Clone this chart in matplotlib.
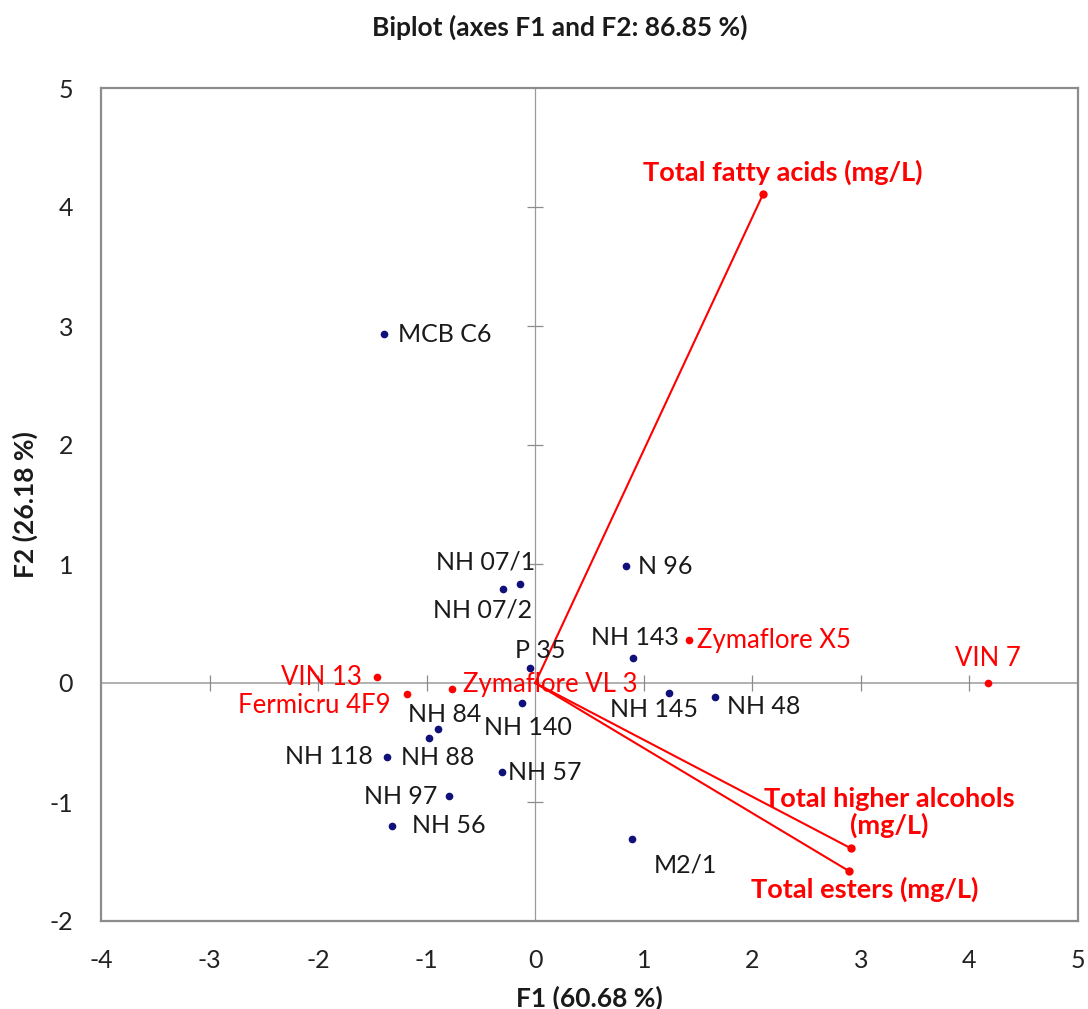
import numpy as np
import matplotlib
matplotlib.use("Agg")
import matplotlib.pyplot as plt

plt.rcParams['font.family'] = ['Lato', 'DejaVu Sans']
plt.rcParams['axes.unicode_minus'] = False

# active observations (blue)
obs_names = ['MCB C6', 'NH 07/1', 'NH 07/2', 'N 96', 'NH 143', 'P 35', 'NH 140',
             'NH 84', 'NH 88', 'NH 118', 'NH 57', 'NH 97', 'NH 56', 'NH 145',
             'NH 48', 'M2/1']
obs_f1 = [-1.39, -0.14, -0.30, 0.84, 0.90, -0.05, -0.12, -0.90, -0.98, -1.37,
          -0.31, -0.79, -1.32, 1.23, 1.66, 0.89]
obs_f2 = [2.93, 0.83, 0.79, 0.98, 0.21, 0.13, -0.17, -0.39, -0.465, -0.62,
          -0.75, -0.95, -1.20, -0.08, -0.12, -1.31]

# commercial / reference strains (red)
sup_names = ['VIN 13', 'Fermicru 4F9', 'Zymaflore VL 3', 'Zymaflore X5', 'VIN 7']
sup_f1 = [-1.46, -1.18, -0.77, 1.42, 4.17]
sup_f2 = [0.05, -0.095, -0.05, 0.36, 0.0]

# variables
var_names = ['Total fatty acids (mg/L)', 'Total higher alcohols\n(mg/L)',
             'Total esters (mg/L)']
var_f1 = [2.10, 2.91, 2.89]
var_f2 = [4.11, -1.39, -1.58]

xticks = [-4, -3, -2, -1, 0, 1, 2, 3, 4, 5]
yticks = [-2, -1, 0, 1, 2, 3, 4, 5]

# label offsets in pixels (dx, dy, ha)
offs = {
    'MCB C6': (14, 0, 'left'), 'NH 07/1': (15, 22, 'right'),
    'NH 07/2': (29, -21, 'right'), 'N 96': (12, 0, 'left'),
    'NH 143': (2, 21, 'center'), 'P 35': (10, 17, 'center'),
    'NH 140': (6, -24, 'center'), 'NH 84': (7, 15, 'center'),
    'NH 88': (-28, -19, 'left'), 'NH 118': (-14, 0, 'right'),
    'NH 57': (6, 0, 'left'), 'NH 97': (-12, 0, 'right'),
    'NH 56': (20, 0, 'left'), 'NH 145': (-15, -17, 'center'),
    'NH 48': (12, -9, 'left'), 'M2/1': (54, -26, 'center'),
    'VIN 13': (-15, 0, 'right'), 'Fermicru 4F9': (-17, -11, 'right'),
    'Zymaflore VL 3': (11, 4, 'left'), 'Zymaflore X5': (8, 0, 'left'),
    'VIN 7': (0, 24, 'center'),
    'Total fatty acids (mg/L)': (20, 22, 'center'),
    'Total higher alcohols\n(mg/L)': (38, 36, 'center'),
    'Total esters (mg/L)': (16, -18, 'center'),
}

fig = plt.figure(figsize=(10.88, 10.09), dpi=100)
ax = fig.add_axes([101 / 1088, 1 - 921 / 1009, 977 / 1088, 833 / 1009])
ax.set_xlim(xticks[0], xticks[-1])
ax.set_ylim(yticks[0], yticks[-1])

for s in ax.spines.values():
    s.set_color('#8c8c8c')
    s.set_linewidth(1.6)

ax.axhline(0, color='#b0b0b0', lw=1.4, zorder=1)
ax.axvline(0, color='#9a9a9a', lw=0.9, zorder=1)
xt = [t for t in xticks[1:-1] if t != 0]
yt = [t for t in yticks[1:-1] if t != 0]
ax.plot(xt, np.zeros(len(xt)), ls='none', marker='|', ms=11, mew=0.9, color='#8c8c8c', zorder=1)
ax.plot(np.zeros(len(yt)), yt, ls='none', marker='_', ms=11, mew=0.9, color='#8c8c8c', zorder=1)

ax.set_xticks(xticks)
ax.set_yticks(yticks)
ax.tick_params(length=0, labelsize=18, pad=20, colors='#222222')

# variable vectors
for x, y in zip(var_f1, var_f2):
    ax.plot([0, x], [0, y], color='red', lw=1.5, zorder=2)
ax.plot(var_f1, var_f2, ls='none', marker='o', ms=5, color='red', zorder=3)

ax.plot(obs_f1, obs_f2, ls='none', marker='o', ms=4.5, color='#10107a', zorder=3)
ax.plot(sup_f1, sup_f2, ls='none', marker='o', ms=4.5, color='red', zorder=3)

def lab(name, x, y, color, weight='normal', size=18):
    dx, dy, ha = offs[name]
    ax.annotate(name, (x, y), xytext=(dx, dy), textcoords='offset pixels',
                ha=ha, va='center', color=color, fontsize=size,
                fontweight=weight, linespacing=1.05, zorder=4)

for n, x, y in zip(obs_names, obs_f1, obs_f2):
    lab(n, x, y, '#1a1a1a', size=18)
for n, x, y in zip(sup_names, sup_f1, sup_f2):
    lab(n, x, y, 'red', size=18.5)
for n, x, y in zip(var_names, var_f1, var_f2):
    lab(n, x, y, 'red', weight='bold', size=19.5)

fig.text(560 / 1088, 1 - 27 / 1009, 'Biplot (axes F1 and F2: 86.85 %)',
         ha='center', va='center', fontsize=19, fontweight='bold', color='#1a1a1a')
ax.text(0.5, -(998 - 921) / 833, 'F1 (60.68 %)', transform=ax.transAxes,
        ha='center', va='center', fontsize=19, fontweight='bold', color='#1a1a1a')
ax.text(-(101 - 25) / 977, 0.5, 'F2 (26.18 %)', transform=ax.transAxes, rotation=90,
        ha='center', va='center', fontsize=19, fontweight='bold', color='#1a1a1a')

fig.savefig('out.png', dpi=100)
